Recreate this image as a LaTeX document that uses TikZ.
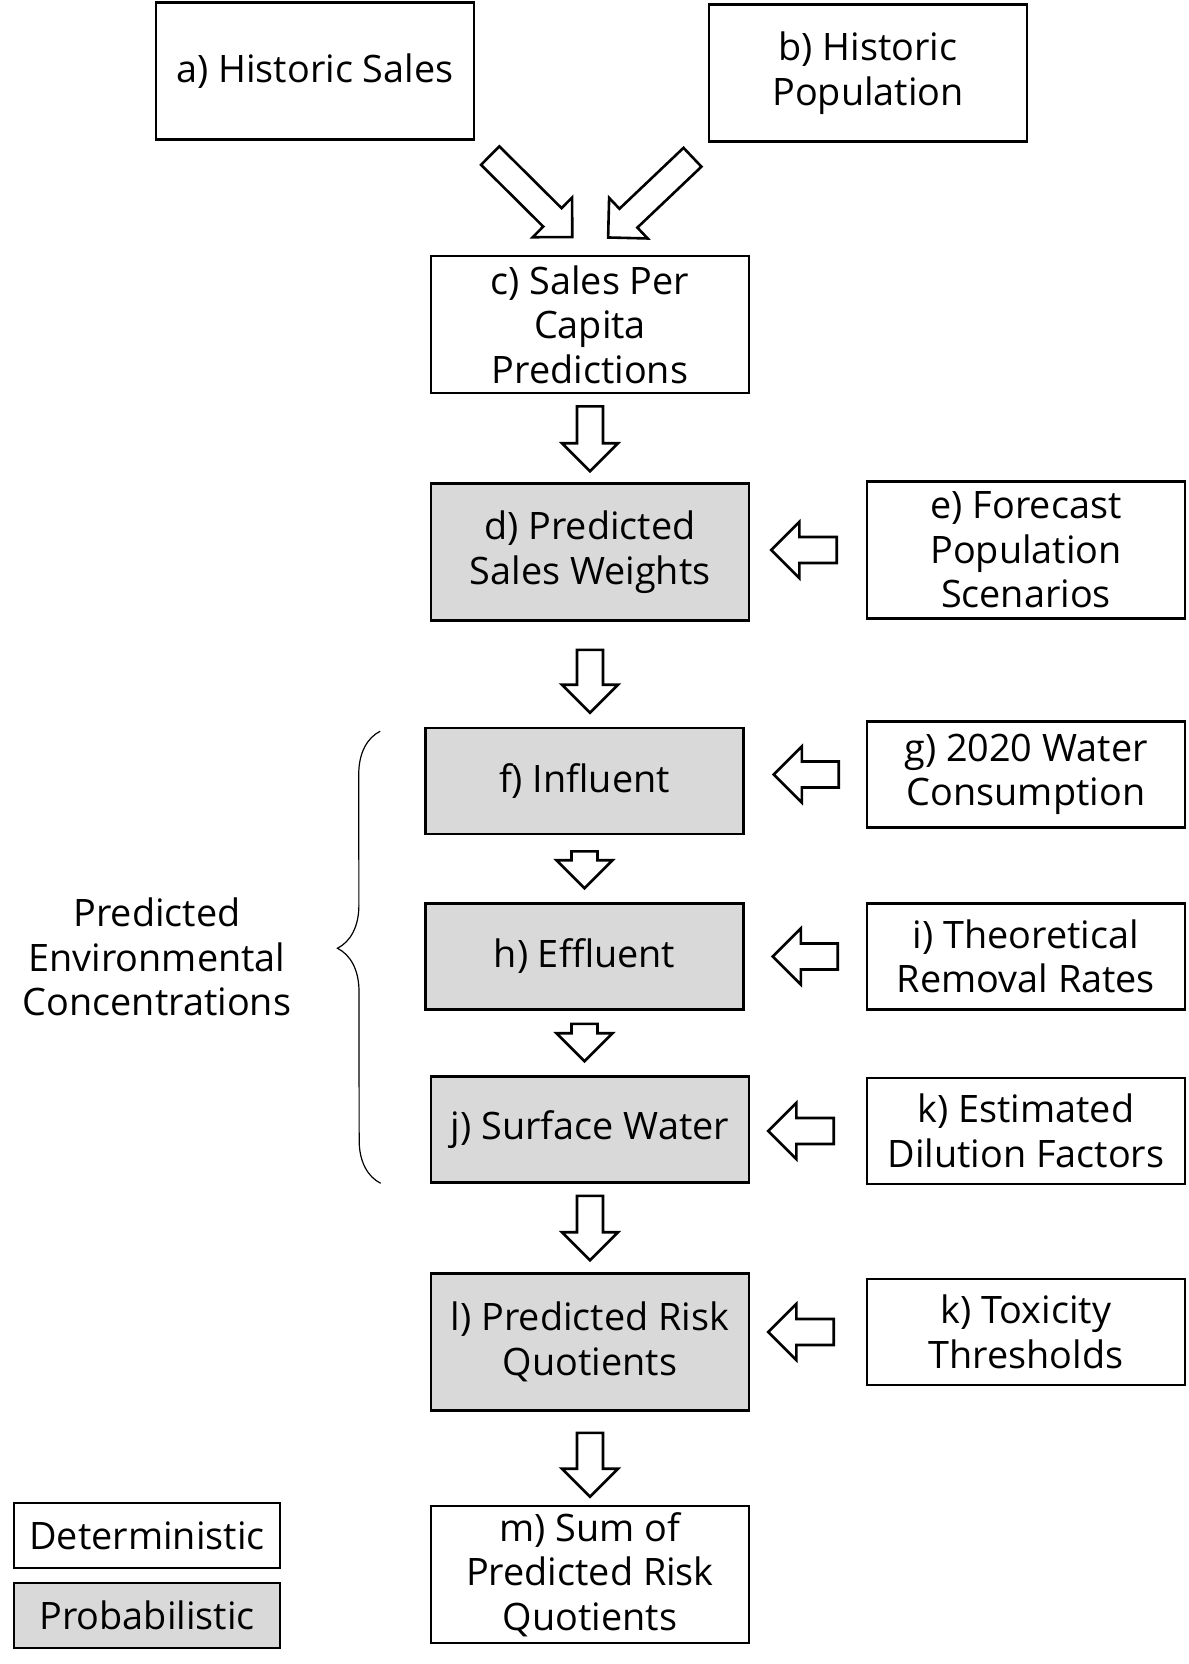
\documentclass[tikz,border=0pt]{standalone}
\usepackage{fontspec}
\setmainfont{Open Sans}
\usetikzlibrary{calc,decorations.pathreplacing}
\definecolor{probgray}{HTML}{D9D9D9}

\begin{document}
\begin{tikzpicture}[x=1pt,y=-1pt,
	font=\fontsize{37.8}{44.6}\selectfont,
	box/.style={draw,line width=2.6pt,align=center,inner sep=0pt,minimum width=318pt,minimum height=137pt},
	lowbox/.style={box,minimum height=106pt},
	prob/.style={fill=probgray},
	legbox/.style={draw,line width=2.6pt,inner sep=0pt,minimum width=266pt,minimum height=65pt},
	blockarrow/.style={draw,line width=2.6pt,fill=white,line join=miter}]
	
	\useasboundingbox (0,0) rectangle (1188,1664);
	
	% fat arrow: #1 from, #2 to, #3 gap at tail, #4 gap at tip
	\def\fatarrow#1#2#3#4{
		\coordinate (fa-t) at ($(#1)!#3!(#2)$);
		\coordinate (fa-p) at ($(#2)!#4!(#1)$);
		\coordinate (fa-h) at ($(fa-p)!28pt!(fa-t)$);
		\draw[blockarrow] ($(fa-t)!13pt!90:(fa-p)$)--($(fa-h)!13pt!90:(fa-p)$)--($(fa-h)!28pt!90:(fa-p)$)--(fa-p)
		--($(fa-h)!28pt!-90:(fa-p)$)--($(fa-h)!13pt!-90:(fa-p)$)--($(fa-t)!13pt!-90:(fa-p)$)--cycle;
	}
	
	% main column
	\node[box] (sales) at (315,71) {a) Historic Sales};
	\node[box] (pop) at (868,73) {b) Historic\\Population};
	\node[box] (spc) at (590,324.5) {c) Sales Per\\Capita\\Predictions};
	\node[box,prob] (sw) at (590,552) {d) Predicted\\Sales Weights};
	\node[lowbox,prob] (infl) at (584.5,781) {f) Influent};
	\node[lowbox,prob] (effl) at (584.5,956.5) {h) Effluent};
	\node[lowbox,prob] (surf) at (590,1129.5) {j) Surface Water};
	\node[box,prob] (rq) at (590,1342) {l) Predicted Risk\\Quotients};
	\node[box] (sumrq) at (590,1574.5) {m) Sum of\\Predicted Risk\\Quotients};
	
	% inputs on the right
	\node[box] (fcpop) at (1026,550) {e) Forecast\\Population\\Scenarios};
	\node[lowbox] (cons) at (1026,774.5) {g) 2020 Water\\Consumption};
	\node[lowbox] (remov) at (1026,956.5) {i) Theoretical\\Removal Rates};
	\node[lowbox] (dil) at (1026,1131) {k) Estimated\\Dilution Factors};
	\node[lowbox] (tox) at (1026,1332) {k) Toxicity\\Thresholds};
	
	% legend
	\node[legbox] (det) at (147,1535.5) {Deterministic};
	\node[legbox,prob] (prb) at (147,1615.5) {Probabilistic};
	
	% PEC brace
	\node[align=center] (pec) at (157,957) {Predicted\\Environmental\\Concentrations};
	\coordinate (brtop) at ($(infl.north west)+(-44,4.5)$);
	\coordinate (brbot) at ($(surf.south west)+(-49,-0.5)$);
	\draw[decorate,decoration={brace,amplitude=43pt,aspect=0.52},line width=1.2pt] (brbot)--(brtop);
	
	% arrows
	\fatarrow{sales.south east}{spc.north}{21pt}{25pt}
	\fatarrow{pop.south west}{spc.north}{21pt}{25pt}
	\fatarrow{spc.south}{sw.north}{12pt}{11pt}
	\fatarrow{sw.south}{sw.south |- infl.north}{28pt}{14pt}
	\fatarrow{infl.south}{effl.north}{16pt}{14pt}
	\fatarrow{effl.south}{effl.south |- surf.north}{13pt}{14pt}
	\fatarrow{surf.south}{rq.north}{12pt}{12pt}
	\fatarrow{rq.south}{sumrq.north}{21pt}{8pt}
	
	\fatarrow{fcpop.west}{sw.east |- fcpop.west}{29pt}{21pt}
	\fatarrow{cons.west}{infl.east |- cons.west}{27pt}{29pt}
	\fatarrow{remov.west}{effl.east |- remov.west}{28pt}{28pt}
	\fatarrow{dil.west}{surf.east |- dil.west}{32pt}{18pt}
	\fatarrow{tox.west}{rq.east |- tox.west}{32pt}{18pt}
	
\end{tikzpicture}
\end{document}
